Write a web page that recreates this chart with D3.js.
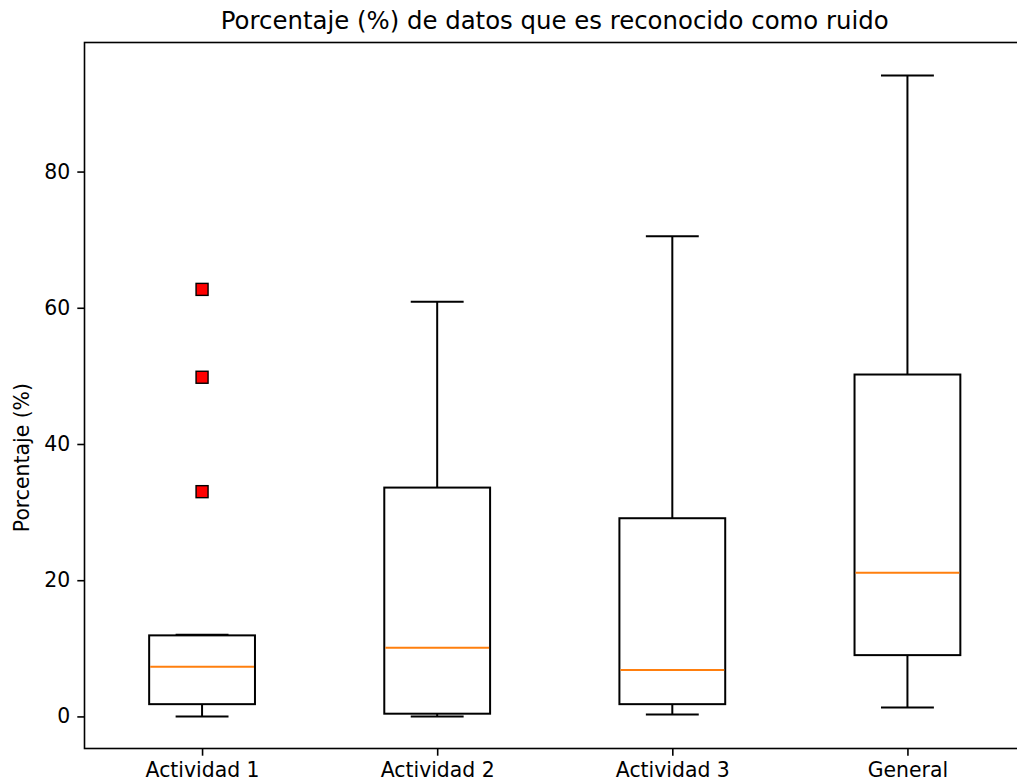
<!DOCTYPE html>
<html>
<head>
<meta charset="utf-8">
<script src="https://cdn.jsdelivr.net/npm/d3@7"></script>
<style>
  html, body { margin: 0; padding: 0; background: #ffffff; }
  svg { display: block; }
  text { font-family: "DejaVu Sans", sans-serif; fill: #000; }
</style>
</head>
<body>
<svg id="chart" width="1017" height="782"></svg>
<script>
// Box-plot summaries (percent of data recognised as noise)
const categories = ["Actividad 1", "Actividad 2", "Actividad 3", "General"];
const whiskerLow  = [0.0, 0.0, 0.3, 1.3];
const q1          = [1.8, 0.4, 1.8, 9.0];
const medians     = [7.3, 10.1, 6.8, 21.1];
const q3          = [11.9, 33.6, 29.1, 50.2];
const whiskerHigh = [12.0, 60.9, 70.5, 94.1];
const outliers    = [[62.7, 49.8, 33.0], [], [], []];
const yTicks      = [0, 20, 40, 60, 80];

const titleText = "Porcentaje (%) de datos que es reconocido como ruido";
const yLabelText = "Porcentaje (%)";

const svg = d3.select("#chart");
const plotLeft = 84.5, plotRight = 1025, plotTop = 42.5, plotBottom = 748.5;

const positions = categories.map((c, i) => i + 1);
const x = d3.scaleLinear().domain([0.5, 4.5]).range([plotLeft, plotRight]);
const y = d3.scaleLinear().domain([-4.71, 98.95]).range([plotBottom, plotTop]);

const boxW = 0.45;
const capW = boxW / 2;
const lw = 2;
const tickFont = "20.4px";

const g = svg.append("g");

categories.forEach((c, i) => {
  const p = positions[i];
  const cx = x(p);
  // whiskers
  g.append("line").attr("x1", cx).attr("x2", cx)
    .attr("y1", y(whiskerLow[i])).attr("y2", y(q1[i]))
    .attr("stroke", "#000").attr("stroke-width", lw);
  g.append("line").attr("x1", cx).attr("x2", cx)
    .attr("y1", y(q3[i])).attr("y2", y(whiskerHigh[i]))
    .attr("stroke", "#000").attr("stroke-width", lw);
  // caps
  [whiskerLow[i], whiskerHigh[i]].forEach(v => {
    g.append("line")
      .attr("x1", x(p - capW / 2)).attr("x2", x(p + capW / 2))
      .attr("y1", y(v)).attr("y2", y(v))
      .attr("stroke", "#000").attr("stroke-width", lw);
  });
  // box
  g.append("rect")
    .attr("x", x(p - boxW / 2)).attr("width", x(p + boxW / 2) - x(p - boxW / 2))
    .attr("y", y(q3[i])).attr("height", y(q1[i]) - y(q3[i]))
    .attr("fill", "none").attr("stroke", "#000").attr("stroke-width", lw);
  // median
  g.append("line")
    .attr("x1", x(p - boxW / 2) + 1).attr("x2", x(p + boxW / 2) - 1)
    .attr("y1", y(medians[i])).attr("y2", y(medians[i]))
    .attr("stroke", "#ff7f0e").attr("stroke-width", lw);
  // fliers
  const ms = 12;
  outliers[i].forEach(v => {
    g.append("rect")
      .attr("x", cx - ms / 2).attr("y", y(v) - ms / 2)
      .attr("width", ms).attr("height", ms)
      .attr("fill", "#ff0000").attr("stroke", "#000").attr("stroke-width", 1.4);
  });
});

// frame
g.append("rect")
  .attr("x", plotLeft).attr("y", plotTop)
  .attr("width", plotRight - plotLeft).attr("height", plotBottom - plotTop)
  .attr("fill", "none").attr("stroke", "#000").attr("stroke-width", 1.6);

// y axis
const yAxis = d3.axisLeft(y).tickValues(yTicks).tickSize(7.2).tickPadding(7)
  .tickFormat(d3.format("d"));
const ya = svg.append("g").attr("transform", `translate(${plotLeft},0)`).call(yAxis);
ya.select(".domain").remove();
ya.selectAll("line").attr("stroke", "#000").attr("stroke-width", 1.6);
ya.selectAll("text").style("font-family", "DejaVu Sans").style("font-size", tickFont).attr("fill", "#000");

// x axis
const xAxis = d3.axisBottom(x).tickValues(positions).tickSize(7.2).tickPadding(7.2)
  .tickFormat((d, i) => categories[i]);
const xa = svg.append("g").attr("transform", `translate(0,${plotBottom})`).call(xAxis);
xa.select(".domain").remove();
xa.selectAll("line").attr("stroke", "#000").attr("stroke-width", 1.6);
xa.selectAll("text").style("font-family", "DejaVu Sans").style("font-size", tickFont).attr("fill", "#000");

// title
svg.append("text")
  .attr("x", (plotLeft + plotRight) / 2).attr("y", 29)
  .attr("text-anchor", "middle")
  .style("font-size", "24.4px")
  .text(titleText);

// y label, sitting a little below the vertical centre of the plot
svg.append("text")
  .attr("transform", `translate(29,${y(38)}) rotate(-90)`)
  .attr("text-anchor", "middle")
  .style("font-size", tickFont)
  .text(yLabelText);
</script>
</body>
</html>
